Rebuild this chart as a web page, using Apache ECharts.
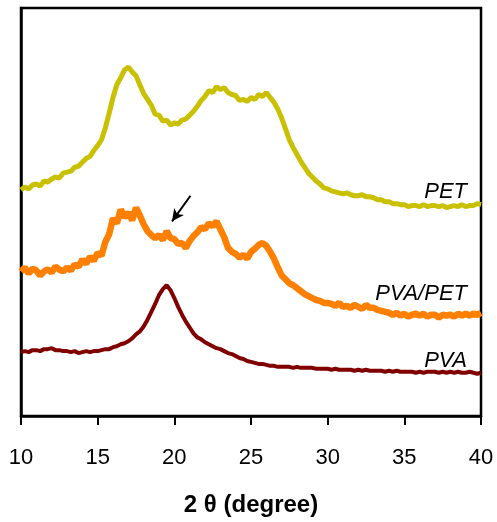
<!DOCTYPE html>
<html>
<head>
<meta charset="utf-8">
<script src="https://cdn.jsdelivr.net/npm/echarts@6/dist/echarts.min.js"></script>
<style>
  html, body { margin: 0; padding: 0; background: #fff; }
  #chart { width: 497px; height: 522px; }
</style>
</head>
<body>
<div id="chart"></div>
<script>
// 2θ positions (degree), one row per degree
const twoTheta = [
  10, 10.25, 10.5, 10.75, 11, 11.25, 11.5, 11.75,
  12, 12.25, 12.5, 12.75, 13, 13.25, 13.5, 13.75,
  14, 14.25, 14.5, 14.75, 15, 15.25, 15.5, 15.75,
  16, 16.25, 16.5, 16.75, 17, 17.25, 17.5, 17.75,
  18, 18.25, 18.5, 18.75, 19, 19.25, 19.5, 19.75,
  20, 20.25, 20.5, 20.75, 21, 21.25, 21.5, 21.75,
  22, 22.25, 22.5, 22.75, 23, 23.25, 23.5, 23.75,
  24, 24.25, 24.5, 24.75, 25, 25.25, 25.5, 25.75,
  26, 26.25, 26.5, 26.75, 27, 27.25, 27.5, 27.75,
  28, 28.25, 28.5, 28.75, 29, 29.25, 29.5, 29.75,
  30, 30.25, 30.5, 30.75, 31, 31.25, 31.5, 31.75,
  32, 32.25, 32.5, 32.75, 33, 33.25, 33.5, 33.75,
  34, 34.25, 34.5, 34.75, 35, 35.25, 35.5, 35.75,
  36, 36.25, 36.5, 36.75, 37, 37.25, 37.5, 37.75,
  38, 38.25, 38.5, 38.75, 39, 39.25, 39.5, 39.75,
  40
];
// intensity (a.u.), curves offset vertically as in the figure
const petValues = [
  230, 233, 231, 235, 236, 234, 239, 238,
  241, 243, 242, 247, 248, 249, 253, 254,
  258, 262, 264, 270, 275, 281, 293, 308,
  324, 337, 344, 352, 355, 350, 346, 337,
  328, 322, 316, 307, 306, 300, 301, 296,
  298, 297, 301, 302, 306, 310, 315, 321,
  325, 331, 329, 335, 332, 334, 329, 327,
  326, 321, 322, 320, 324, 322, 327, 325,
  329, 324, 319, 312, 303, 292, 281, 273,
  266, 259, 253, 247, 243, 239, 236, 232,
  231, 229, 228, 227, 226, 227, 225, 224,
  224, 225, 223, 223, 222, 220, 220, 218,
  218, 216, 216, 215, 215, 213, 214, 214,
  213, 215, 213, 214, 214, 213, 214, 212,
  213, 214, 213, 215, 213, 214, 214, 216,
  215
];
const pvaPetValues = [
  147, 151, 145, 150, 148, 143, 147, 149,
  146, 152, 149, 147, 151, 148, 154, 152,
  159, 155, 162, 158, 166, 163, 177, 185,
  201, 196, 210, 202, 207, 199, 212, 204,
  195, 188, 184, 181, 184, 179, 188, 181,
  180, 175, 176, 171, 178, 183, 187, 192,
  190, 196, 193, 198, 190, 182, 171, 167,
  165, 161, 164, 160, 167, 170, 174, 176,
  173, 167, 160, 151, 143, 139, 135, 133,
  130, 127, 124, 122, 120, 118, 117, 115,
  115, 114, 112, 115, 111, 112, 110, 113,
  111, 109, 113, 110, 110, 108, 107, 106,
  105, 103, 105, 102, 104, 101, 103, 104,
  102, 104, 101, 103, 103, 100, 103, 102,
  103, 101, 104, 102, 104, 102, 104, 103,
  105
];
const pvaValues = [
  65, 66, 65, 67, 67, 66, 68, 68,
  69, 67, 67, 66, 66, 65, 66, 64,
  65, 66, 65, 66, 66, 67, 68, 68,
  70, 71, 73, 74, 76, 79, 83, 86,
  91, 98, 106, 114, 123, 129, 133, 128,
  120, 111, 103, 96, 90, 84, 80, 78,
  75, 73, 71, 69, 68, 66, 64, 63,
  61, 59, 58, 56, 55, 54, 53, 53,
  52, 51, 51, 50, 50, 50, 50, 49,
  50, 49, 49, 49, 49, 48, 48, 48,
  48, 47, 48, 47, 47, 47, 47, 46,
  47, 46, 47, 46, 46, 46, 46, 45,
  46, 45, 46, 45, 45, 45, 45, 44,
  45, 44, 45, 45, 45, 44, 45, 44,
  45, 44, 45, 44, 44, 45, 44, 43,
  44
];
const xTicks = [10, 15, 20, 25, 30, 35, 40];

const pairs = (vals) => twoTheta.map((x, i) => [x, vals[i]]);

const chart = echarts.init(document.getElementById("chart"));
const font = "'Liberation Sans', Arial, sans-serif";

const option = {
  animation: false,
  backgroundColor: "#fff",
  grid: {
    left: 21,
    right: 16,
    top: 8,
    bottom: 99,
    show: true,
    borderColor: "#000",
    borderWidth: 2.5,
  },
  xAxis: {
    type: "value",
    min: xTicks[0],
    max: xTicks[xTicks.length - 1],
    interval: 5,
    name: "2 θ (degree)",
    nameLocation: "middle",
    nameGap: 77,
    nameTextStyle: {
      fontFamily: font,
      fontSize: 24,
      fontWeight: "bold",
      color: "#000",
    },
    axisLine: { show: true, lineStyle: { color: "#000", width: 2.5 } },
    axisTick: { show: true, inside: false, length: 9, lineStyle: { color: "#000", width: 2 } },
    axisLabel: { fontFamily: font, fontSize: 22, color: "#000", margin: 31 },
    splitLine: { show: false },
  },
  yAxis: {
    type: "value",
    min: 0,
    max: 415,
    axisLine: { show: true, lineStyle: { color: "#000", width: 2.5 } },
    axisTick: { show: false },
    axisLabel: { show: false },
    splitLine: { show: false },
  },
  series: [
    {
      name: "PET",
      type: "line",
      data: pairs(petValues),
      showSymbol: false,
      lineStyle: { color: "#C8C000", width: 5 },
    },
    {
      name: "PVA/PET",
      type: "line",
      data: pairs(pvaPetValues),
      showSymbol: false,
      lineStyle: { color: "#FF8000", width: 6.5 },
      markLine: {
        silent: true,
        symbol: ["none", "arrow"],
        symbolSize: [9, 12],
        lineStyle: { color: "#000", width: 2, type: "solid" },
        label: { show: false },
        data: [[{ coord: [21.05, 224] }, { coord: [19.85, 198] }]],
      },
    },
    {
      name: "PVA",
      type: "line",
      data: pairs(pvaValues),
      showSymbol: false,
      lineStyle: { color: "#800000", width: 4 },
    },
  ],
  graphic: [
    { type: "text", right: 30, top: 181, style: { text: "PET", font: "italic 22px " + font, fill: "#000" } },
    { type: "text", right: 30, top: 283, style: { text: "PVA/PET", font: "italic 22px " + font, fill: "#000" } },
    { type: "text", right: 30, top: 350, style: { text: "PVA", font: "italic 22px " + font, fill: "#000" } },
  ],
};

chart.setOption(option);
</script>
</body>
</html>
